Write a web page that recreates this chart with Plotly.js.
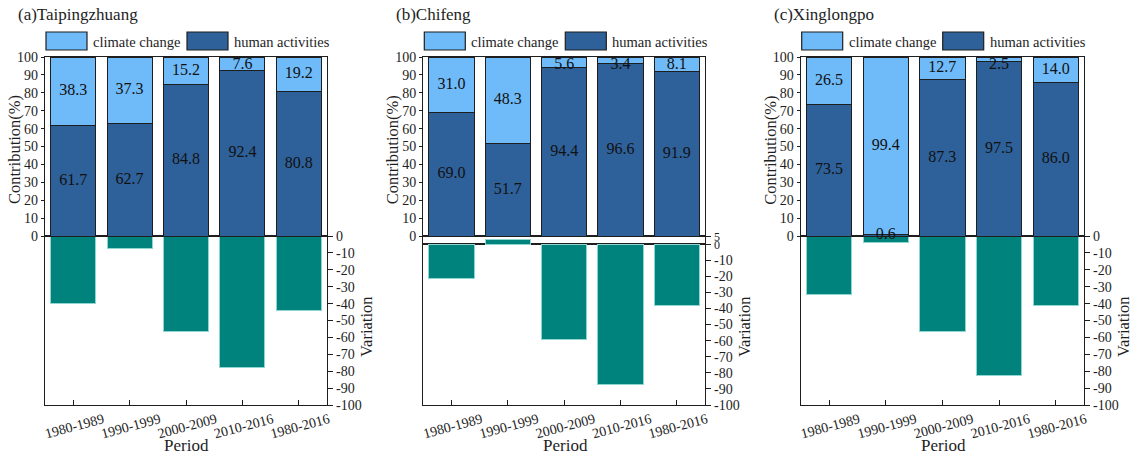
<!DOCTYPE html>
<html>
<head>
<meta charset="utf-8">
<script src="https://cdn.plot.ly/plotly-3.0.1.min.js"></script>
<style>
  html, body { margin: 0; padding: 0; background: #fff; }
  #chart { width: 1135px; height: 459px; }
</style>
</head>
<body>
<div id="chart"></div>
<script>
// Periods shared by all three stations
const periods = ['1980-1989', '1990-1999', '2000-2009', '2010-2016', '1980-2016'];
const stations = ['(a)Taipingzhuang', '(b)Chifeng', '(c)Xinglongpo'];

// Contribution (%) of climate change and human activities, and runoff variation
const climateA = [38.3, 37.3, 15.2, 7.6, 19.2];
const humanA = [61.7, 62.7, 84.8, 92.4, 80.8];
const variationA = [-40.0, -7.6, -56.6, -78.0, -43.8];

const climateB = [31.0, 48.3, 5.6, 3.4, 8.1];
const humanB = [69.0, 51.7, 94.4, 96.6, 91.9];
const variationB = [-21.4, 2.7, -59.1, -87.3, -37.9];

const climateC = [26.5, 99.4, 12.7, 2.5, 14.0];
const humanC = [73.5, 0.6, 87.3, 97.5, 86.0];
const variationC = [-34.6, -4.0, -56.6, -82.4, -41.4];

// Axis ticks
const contribTicks = [0, 10, 20, 30, 40, 50, 60, 70, 80, 90, 100];
const variationTicks = [0, -10, -20, -30, -40, -50, -60, -70, -80, -90, -100];
const variationTicksB = [5, 0, -10, -20, -30, -40, -50, -60, -70, -80, -90, -100];
const legendLabels = ['climate change', 'human activities'];

const panels = [
  { title: stations[0], climate: climateA, human: humanA, variation: variationA, vTicks: variationTicks, vTop: 0 },
  { title: stations[1], climate: climateB, human: humanB, variation: variationB, vTicks: variationTicksB, vTop: 5 },
  { title: stations[2], climate: climateC, human: humanC, variation: variationC, vTicks: variationTicks, vTop: 0 }
];

// Page geometry (pixels)
const W = 1135, H = 459;
const frameLeft = [45, 423.3, 800.7];
const frameRight = [327, 705, 1084];
const yTop = 57, yMid = 236, yBottom = 405;
const px = x => x / W;
const py = y => 1 - y / H;

const FONT = 'Liberation Serif, Times New Roman, serif';
const INK = '#1e1e1e';
const LIGHT = '#6fbaf8';
const DARK = '#2e6099';
const TEAL = '#00827d';

// Hyphen for negatives; the closely spaced 5 / 0 pair is set a little smaller
const fmt = (v, tight) => {
  const s = v < 0 ? '-' + Math.abs(v) : String(v);
  return tight && v >= 0 ? '<span style="font-size:12px">' + s + '</span>' : s;
};

const traces = [];
const layout = {
  width: W, height: H,
  margin: { l: 0, r: 0, t: 0, b: 0 },
  paper_bgcolor: '#fff', plot_bgcolor: 'rgba(0,0,0,0)',
  barmode: 'stack',
  showlegend: false,
  font: { family: FONT, size: 14, color: INK },
  shapes: [], annotations: []
};

const axName = (kind, n) => kind + (n === 1 ? '' : n);

panels.forEach((p, i) => {
  const nLow = 2 * i + 1, nUp = 2 * i + 2;
  const xLow = axName('x', nLow), yLow = axName('y', nLow);
  const xUp = axName('x', nUp), yUp = axName('y', nUp);
  const dom = [px(frameLeft[i]), px(frameRight[i])];
  const tight = p.vTop > 0;

  const lineStyle = { showline: true, mirror: true, linecolor: INK, linewidth: 1.2, showgrid: false };

  layout[axName('xaxis', nLow)] = Object.assign({}, lineStyle, {
    domain: dom, anchor: yLow, type: 'category', range: [-0.5, 4.5],
    ticks: 'inside', ticklen: 5, tickcolor: INK, tickangle: -15, ticklabelshift: 30,
    tickfont: { family: FONT, size: 14, color: INK }, zeroline: false, fixedrange: true
  });
  layout[axName('xaxis', nUp)] = Object.assign({}, lineStyle, {
    domain: dom, anchor: yUp, type: 'category', range: [-0.5, 4.5],
    showticklabels: false, ticks: '', zeroline: false, fixedrange: true
  });
  layout[axName('yaxis', nLow)] = Object.assign({}, lineStyle, {
    domain: [py(yBottom), py(yMid)], anchor: xLow, side: 'right',
    range: [-100, p.vTop], tickmode: 'array', tickvals: p.vTicks,
    ticktext: p.vTicks.map(v => fmt(v, tight)),
    ticks: 'outside', ticklen: 5, tickcolor: INK,
    tickfont: { family: FONT, size: 14, color: INK },
    zeroline: true, zerolinecolor: INK, zerolinewidth: 1.2, fixedrange: true
  });
  layout[axName('yaxis', nUp)] = Object.assign({}, lineStyle, {
    domain: [py(yMid), py(yTop)], anchor: xUp,
    range: [0, 100], tickmode: 'array', tickvals: contribTicks,
    ticks: 'outside', ticklen: 3, tickcolor: INK,
    tickfont: { family: FONT, size: 14, color: INK }, zeroline: false, fixedrange: true
  });

  // Stacked contribution bars
  traces.push({
    type: 'bar', x: periods, y: p.human, xaxis: xUp, yaxis: yUp, width: 0.8,
    marker: { color: DARK, line: { color: INK, width: 1 } }, hoverinfo: 'skip'
  });
  traces.push({
    type: 'bar', x: periods, y: p.climate, xaxis: xUp, yaxis: yUp, width: 0.8,
    marker: { color: LIGHT, line: { color: INK, width: 1 } }, hoverinfo: 'skip'
  });
  // Variation bars
  traces.push({
    type: 'bar', x: periods, y: p.variation, xaxis: xLow, yaxis: yLow, width: 0.8,
    marker: { color: TEAL, line: { color: '#8fd6d2', width: 1 } }, hoverinfo: 'skip'
  });
  // Value labels at the middle of each segment
  const humanMid = p.human.map(v => v / 2);
  const climateMid = p.climate.map((v, k) => Math.min(p.human[k] + v / 2, 95.5));
  traces.push({
    type: 'scatter', mode: 'text', x: periods.concat(periods),
    y: humanMid.concat(climateMid),
    text: p.human.concat(p.climate).map(v => v.toFixed(1)),
    textfont: { family: FONT, size: 16, color: '#111' },
    xaxis: xUp, yaxis: yUp, cliponaxis: false, hoverinfo: 'skip'
  });

  // Panel title
  layout.annotations.push({
    xref: 'paper', yref: 'paper', x: px(frameLeft[i] - 29), y: py(15),
    xanchor: 'left', yanchor: 'middle', showarrow: false, text: p.title,
    font: { family: FONT, size: 17, color: INK }
  });
  // Axis titles
  layout.annotations.push({
    xref: 'paper', yref: 'paper', x: px(frameLeft[i] - 30), y: py(150),
    xanchor: 'center', yanchor: 'middle', showarrow: false, textangle: -90,
    text: 'Contribution(%)', font: { family: FONT, size: 16.5, color: INK }
  });
  layout.annotations.push({
    xref: 'paper', yref: 'paper', x: px(frameRight[i] + 39), y: py(327),
    xanchor: 'center', yanchor: 'middle', showarrow: false, textangle: -90,
    text: 'Variation', font: { family: FONT, size: 16.5, color: INK }
  });
  layout.annotations.push({
    xref: 'paper', yref: 'paper', x: px((frameLeft[i] + frameRight[i]) / 2 + 1), y: py(445),
    xanchor: 'center', yanchor: 'middle', showarrow: false,
    text: 'Period', font: { family: FONT, size: 17, color: INK }
  });

  // Legend keys
  [[LIGHT, 1], [DARK, 142]].forEach(([col, off], k) => {
    const x0 = frameLeft[i] + off;
    layout.shapes.push({
      type: 'rect', xref: 'paper', yref: 'paper',
      x0: px(x0), x1: px(x0 + 41), y0: py(50), y1: py(32),
      fillcolor: col, line: { color: INK, width: 1.2 }
    });
    layout.annotations.push({
      xref: 'paper', yref: 'paper', x: px(x0 + 45), y: py(42),
      xanchor: 'left', yanchor: 'middle', showarrow: false,
      text: legendLabels[k], font: { family: FONT, size: 14.5, color: INK }
    });
  });
});

Plotly.newPlot('chart', traces, layout, { staticPlot: true, displayModeBar: false });
</script>
</body>
</html>
